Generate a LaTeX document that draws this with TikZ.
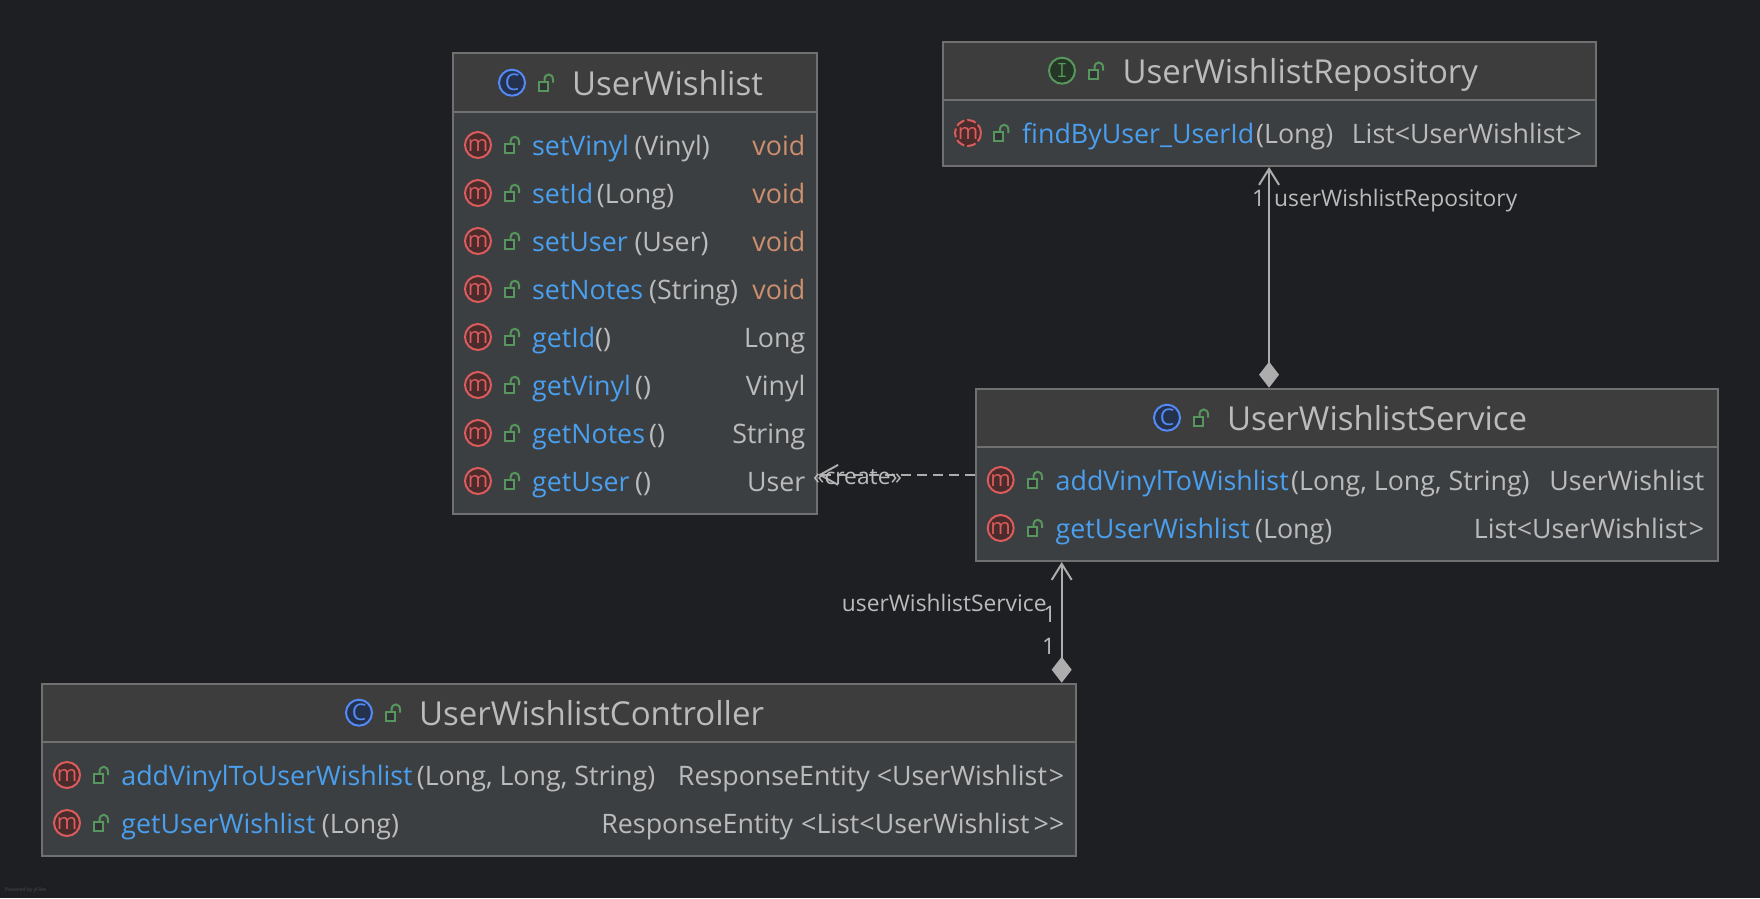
\documentclass[tikz,border=0pt]{standalone}
\usepackage{fontspec}
\setmainfont{Open Sans}
\usetikzlibrary{arrows.meta,calc}
\definecolor{bgc}{HTML}{1E1F22}
\definecolor{hdc}{HTML}{3D3D3D}
\definecolor{bdc}{HTML}{3C3F41}
\definecolor{edgec}{HTML}{707070}
\definecolor{txtc}{HTML}{BBBBBB}
\definecolor{namec}{HTML}{4A9FEE}
\definecolor{voidc}{HTML}{CF8E6D}
\definecolor{redc}{HTML}{DB5C5C}
\definecolor{redf}{HTML}{4A2C2C}
\definecolor{bluec}{HTML}{548AF7}
\definecolor{bluef}{HTML}{25324D}
\definecolor{greenc}{HTML}{57965C}
\definecolor{greenf}{HTML}{253627}
\definecolor{linec}{HTML}{ADADAD}
\newcounter{tn}
\tikzset{
  x=1pt,y=-1pt,
  boxbody/.style={draw=edgec,fill=bdc,line width=2pt,inner sep=0pt,rectangle},
  boxhead/.style={draw=edgec,fill=hdc,line width=2pt,inner sep=0pt,rectangle},
  titletext/.style={anchor=base west,inner sep=0pt,text=txtc,font=\fontsize{33}{34}\selectfont},
  rowtext/.style={anchor=base west,inner sep=0pt,text=txtc,font=\fontsize{26.8}{30}\selectfont},
  namelabel/.style={rowtext,text=namec},
  rettext/.style={rowtext,anchor=base east},
  edgelabel/.style={anchor=base west,inner sep=0pt,text=txtc,font=\fontsize{22.8}{26}\selectfont},
  icon/.style={circle,draw=#1c,fill=#1f,line width=2pt,minimum size=26pt,inner sep=0pt,text=#1c,font=\fontsize{22}{23}\selectfont},
  rowicon/.style={icon=red},
  dashedicon/.style={icon=red,dash pattern=on 9pt off 3pt},
  assoc/.style={draw=linec,line width=2pt,{Straight Barb[length=16pt,width=20pt,line width=2pt]}-{Diamond[length=26pt,width=20pt,fill=linec]}},
  depend/.style={draw=linec,line width=2pt,dash pattern=on 10pt off 6pt,-{Straight Barb[length=18pt,width=20pt,line width=2pt]}},
  lock/.pic={
    \draw[greenc,line width=2pt,fill=bgc!40!bdc] (-7.5,-1) rectangle (2,8);
    \draw[greenc,line width=2pt] (-1.5,-1) -- (-1.5,-3) .. controls (-1.5,-10) and (7,-10) .. (7,-3) -- (7,0);
  },
}
% box: id, x1, y1, ysep, x2, y2
\newcommand{\umlbox}[6]{%
  \node[boxbody,minimum width=#5pt-#2pt,minimum height=#6pt-#4pt] (#1-body) at ({(#2+#5)/2},{(#4+#6)/2}) {};
  \node[boxhead,minimum width=#5pt-#2pt,minimum height=#4pt-#3pt] (#1) at ({(#2+#5)/2},{(#3+#4)/2}) {};
}
% title: id, icon colour, letter, icon x, lock x, title x, y, text
\newcommand{\umltitle}[8]{%
  \node[icon=#2] (#1-i) at (#4,#7) {\fontsize{23}{24}\selectfont #3};
  \pic at (#5,#7) {lock};
  \node[titletext] (#1-t) at (#6-1,#7+12.5) {#8};
}
% row: id, y, name, param x, param, return, return colour
\newcommand{\umlrow}[7]{%
  \stepcounter{tn}%
  \node[rowicon] (#1-i\arabic{tn}) at (\ix,#2) {m};
  \pic at (\lx,#2) {lock};
  \node[namelabel] (#1-n\arabic{tn}) at (\nx,#2+10) {#3};
  \node[rowtext] (#1-p\arabic{tn}) at (#4,#2+10) {#5};
  \node[rettext,text=#7] (#1-r\arabic{tn}) at (\rx,#2+10) {#6};
}
\begin{document}
\begin{tikzpicture}
\useasboundingbox[fill=bgc] (0,0) rectangle (1760,898);
% UserWishlist
\umlbox{wl}{453}{53}{112}{817}{514}
\umltitle{wl}{blue}{C}{512}{546}{573}{82.7}{UserWishlist}
\def\ix{478}\def\lx{512}\def\nx{532}\def\rx{805.5}
\umlrow{wl}{145}{setVinyl}{634.3}{(Vinyl)}{void}{voidc}
\umlrow{wl}{193}{setId}{596.7}{(Long)}{void}{voidc}
\umlrow{wl}{241}{setUser}{634.3}{(User)}{void}{voidc}
\umlrow{wl}{289}{setNotes}{649}{(String)}{void}{voidc}
\umlrow{wl}{337}{getId}{595}{()}{Long}{txtc}
\umlrow{wl}{385}{getVinyl}{635}{()}{Vinyl}{txtc}
\umlrow{wl}{433}{getNotes}{649}{()}{String}{txtc}
\umlrow{wl}{481}{getUser}{635}{()}{User}{txtc}
% Repository
\umlbox{repo}{942.5}{41.7}{99.7}{1595.6}{166}
\umltitle{repo}{green}{\ttfamily I}{1062}{1096}{1123.3}{70.7}{UserWishlistRepository}
\def\ix{968}\def\lx{1001.4}\def\nx{1022}\def\rx{1582.5}
\tikzset{rowicon/.style={dashedicon}}
\umlrow{repo}{133}{findByUser\_UserId}{1256}{(Long)}{List<UserWishlist\kern2pt>}{txtc}
\tikzset{rowicon/.style={icon=red}}
% Service
\umlbox{svc}{975.7}{388.7}{446.7}{1718}{561}
\umltitle{svc}{blue}{C}{1167}{1201}{1228}{417.7}{UserWishlistService}
\def\ix{1000.7}\def\lx{1035}\def\nx{1055.5}\def\rx{1704.5}
\umlrow{svc}{480}{addVinylToWishlist}{1291}{(Long, Long, String)}{UserWishlist}{txtc}
\umlrow{svc}{528}{getUserWishlist}{1255}{(Long)}{List<UserWishlist\kern2pt>}{txtc}
% Controller
\umlbox{ctl}{41.7}{683.7}{741.7}{1076}{856}
\umltitle{ctl}{blue}{C}{359}{393}{420}{712.7}{UserWishlistController}
\def\ix{67}\def\lx{101}\def\nx{121.2}\def\rx{1064.5}
\umlrow{ctl}{775}{addVinylToUserWishlist}{416.7}{(Long, Long, String)}{ResponseEntity <UserWishlist\kern2pt>}{txtc}
\umlrow{ctl}{823}{getUserWishlist}{321.7}{(Long)}{ResponseEntity\kern1pt\ <List<UserWishlist\kern4pt>{}>}{txtc}
% Connectors
\coordinate (svcport) at ($(svc-body.south west)+(87,0)$);
\draw[assoc] (repo-body.south) -- (repo-body.south |- svc.north);
\draw[assoc] (svcport) -- (svcport |- ctl.north);
\path (svc.north west) -- (svc-body.south west) coordinate[midway] (svcmid);
\draw[depend] (svcmid) -- (svcmid -| wl-body.east);
% Edge labels
\node[edgelabel] (l1) at (1252,206) {1};
\node[edgelabel] (l2) at (1274,206) {userWishlistRepository};
\node[edgelabel] (l3) at (841.7,611) {userWishlistService};
\node[edgelabel] (l4) at (1043,622) {1};
\node[edgelabel] (l5) at (1042,654) {1};
\node[edgelabel] (l6) at (813,484) {«create»};
\node[anchor=base west,inner sep=0pt,text=bgc!80!white,font=\fontsize{5}{6}\selectfont] (wm) at (5,891) {Powered by yFiles};
\end{tikzpicture}
\end{document}
